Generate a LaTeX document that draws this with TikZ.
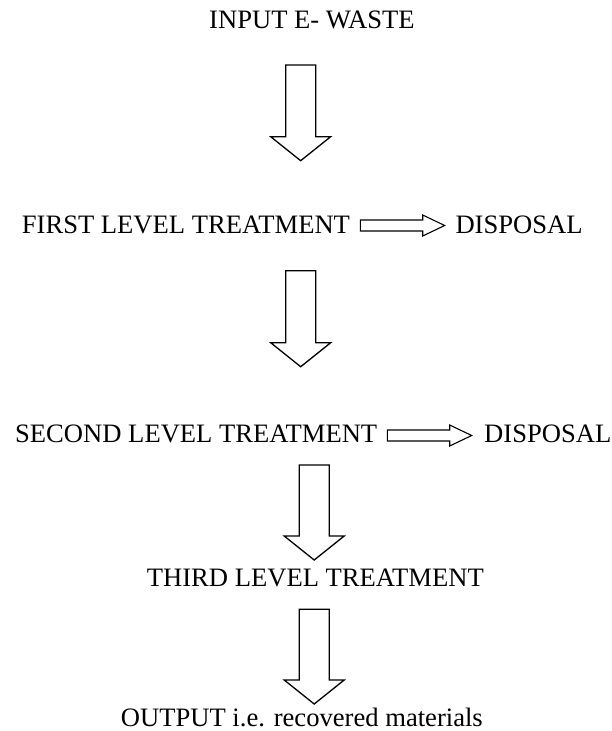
\documentclass[tikz,border=0pt]{standalone}
\usepackage{fontspec}
\setmainfont{Liberation Serif}
\usepackage{tikz}
\usetikzlibrary{calc}

\begin{document}
\begin{tikzpicture}[x=1pt, y=-1pt,
    lbl/.style={inner sep=0pt, anchor=base west, font=\fontsize{26.6}{30}\selectfont},
    downblock/.style={line width=1.3pt, line join=miter, to path={
        let \p1=(\tikztostart), \p2=(\tikztotarget) in
        (\x1-15pt,\y1) -- (\x1+15pt,\y1) -- (\x1+15pt,\y2+24pt) -- (\x1+30pt,\y2+24pt)
        -- (\x2,\y2) -- (\x1-30pt,\y2+24pt) -- (\x1-15pt,\y2+24pt) -- cycle}},
    sideblock/.style={line width=1.1pt, line join=miter, to path={
        let \p1=(\tikztostart), \p2=(\tikztotarget) in
        (\x1,\y1+5.5pt) -- (\x2-22pt,\y1+5.5pt) -- (\x2-22pt,\y1+10.5pt)
        -- (\x2,\y2) -- (\x2-22pt,\y1-10.5pt) -- (\x2-22pt,\y1-5.5pt) -- (\x1,\y1-5.5pt) -- cycle}}]
      \useasboundingbox (0,0) rectangle (612,731);

      \node[lbl] (input) at (209,28) {INPUT E- WASTE};
      \node[lbl] (first) at (21.7,233.3) {FIRST LEVEL TREATMENT};
      \node[lbl] (disp1) at (455.3,233.3) {DISPOSAL};
      \node[lbl] (second) at (15,442.7) {SECOND LEVEL TREATMENT};
      \node[lbl] (disp2) at (484,442.7) {DISPOSAL};
      \node[lbl] (third) at (146.7,586.7) {THIRD LEVEL TREATMENT};
      \node[lbl] (output) at (120.7,726.7) {OUTPUT i.e. recovered materials};

      % down arrows
      \coordinate (d1s) at (300.7,65);
      \coordinate (d1e) at (300.7,160.7);
      \coordinate (d2s) at (300.7,270.7);
      \coordinate (d2e) at (300.7,366.7);
      \coordinate (d3s) at (314.2,465);
      \coordinate (d3e) at (314.2,560);
      \coordinate (d4s) at (314.2,609.3);
      \coordinate (d4e) at (314.2,704);
      \draw[downblock] (d1s) to (d1e);
      \draw[downblock] (d2s) to (d2e);
      \draw[downblock] (d3s) to (d3e);
      \draw[downblock] (d4s) to (d4e);

      % to disposal
      \coordinate (s1s) at (360.3,225.5);
      \coordinate (s1e) at (444.7,225.5);
      \coordinate (s2s) at (387.3,435.5);
      \coordinate (s2e) at (471.7,435.5);
      \draw[sideblock] (s1s) to (s1e);
      \draw[sideblock] (s2s) to (s2e);
    \end{tikzpicture}
\end{document}
